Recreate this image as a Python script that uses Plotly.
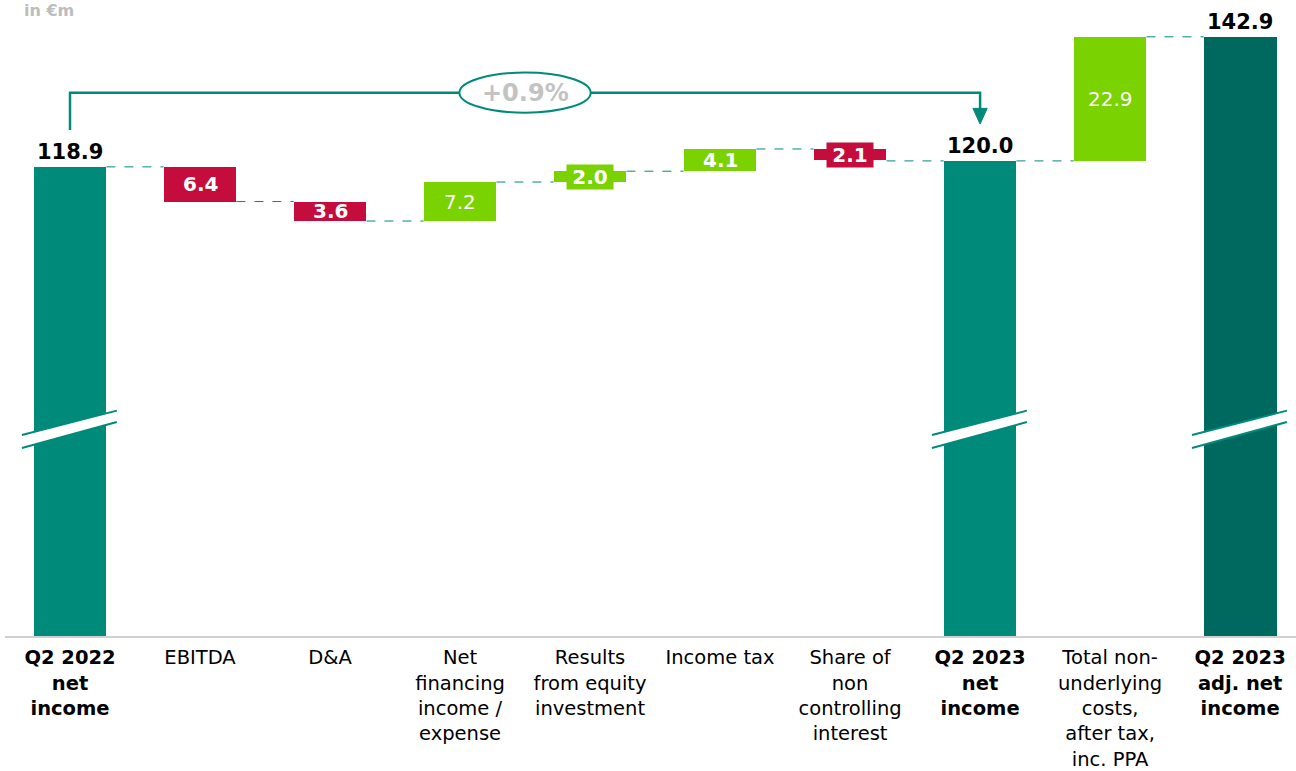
import plotly.graph_objects as go

# ---------------- data ----------------
categories = [
    "<b>Q2 2022<br>net<br>income</b>",
    "EBITDA",
    "D&A",
    "Net<br>financing<br>income /<br>expense",
    "Results<br>from equity<br>investment",
    "Income tax",
    "Share of<br>non<br>controlling<br>interest",
    "<b>Q2 2023<br>net<br>income</b>",
    "Total non-<br>underlying<br>costs,<br>after tax,<br>inc. PPA",
    "<b>Q2 2023<br>adj. net<br>income</b>",
]
values = [118.9, -6.4, -3.6, 7.2, 2.0, 4.1, -2.1, 120.0, 22.9, 142.9]
kinds = ["total", "delta", "delta", "delta", "delta", "delta", "delta", "total", "delta", "total"]
label_bold = [True, True, True, False, True, True, True, True, False, True]
change_text = "+0.9%"
unit_text = "in €m"

# ---------------- style ----------------
TEAL = "#008A7A"
DARK_TEAL = "#00695F"
RED = "#C40D3C"
GREEN = "#7AD300"
FONT = "DejaVu Sans"
total_colors = {0: TEAL, 7: TEAL, 9: DARK_TEAL}

bases, heights, colors, ends = [], [], [], []
level = 0.0
for i, (v, k) in enumerate(zip(values, kinds)):
    if k == "total":
        bases.append(0.0)
        heights.append(v)
        colors.append(total_colors[i])
        level = v
    else:
        bases.append(level)
        heights.append(v)
        colors.append(GREEN if v >= 0 else RED)
        level = level + v
    ends.append(level)

x = list(range(len(values)))
BAR_W = 0.56

fig = go.Figure()
fig.add_trace(go.Bar(
    x=x, y=heights, base=bases, width=BAR_W,
    marker=dict(color=colors, line=dict(width=0)),
    hoverinfo="skip", showlegend=False,
))

shapes = []
annotations = []

# connectors
for i in range(len(values) - 1):
    lvl = ends[i]
    if kinds[i + 1] == "total":
        lvl = values[i + 1]
    shapes.append(dict(
        type="line", xref="x", yref="y",
        x0=i + BAR_W / 2, x1=i + 1 - BAR_W / 2, y0=lvl, y1=lvl,
        line=dict(color=TEAL, width=1, dash="dash"), layer="below",
    ))

# value labels
for i, v in enumerate(values):
    if kinds[i] == "total":
        annotations.append(dict(
            x=i, y=v, xref="x", yref="y", text=f"<b>{v:.1f}</b>",
            showarrow=False, yanchor="bottom", yshift=1,
            font=dict(family=FONT, size=21, color="black"),
        ))
    else:
        mid = bases[i] + heights[i] / 2
        t = f"{abs(v):.1f}"
        if label_bold[i]:
            t = f"<b>{t}</b>"
        small = abs(v) < 3
        annotations.append(dict(
            x=i, y=mid, xref="x", yref="y", text=t, showarrow=False,
            bgcolor=colors[i] if small else "rgba(0,0,0,0)",
            borderpad=0, height=24 if small else None,
            width=46 if small else None,
            font=dict(family=FONT, size=20, color="white"),
        ))

# axis break marks
for i in [0, 7, 9]:
    xl, xr = i - 0.37, i + 0.36
    ul, ur, ll, lr = 69.4, 73.9, 67.0, 71.8
    shapes.append(dict(
        type="path", xref="x", yref="y",
        path=f"M {xl},{ul} L {xr},{ur} L {xr},{lr} L {xl},{ll} Z",
        fillcolor="white", line=dict(width=0),
    ))
    for (ya, yb) in [(ul, ur), (ll, lr)]:
        shapes.append(dict(
            type="line", xref="x", yref="y", x0=xl, x1=xr, y0=ya, y1=yb,
            line=dict(color=TEAL, width=2),
        ))

# bridge line with arrow
y_top = 132.6
shapes.append(dict(
    type="path", xref="x", yref="y",
    path=f"M 0,125.7 L 0,{y_top} L 7,{y_top} L 7,129.3",
    line=dict(color=TEAL, width=2.5),
))
shapes.append(dict(
    type="path", xref="x", yref="y",
    path="M 6.945,129.7 L 7.055,129.7 L 7,126.8 Z",
    fillcolor=TEAL, line=dict(color=TEAL, width=1),
))
# ellipse with change
shapes.append(dict(
    type="circle", xref="x", yref="y",
    x0=3.5 - 0.505, x1=3.5 + 0.505, y0=128.9, y1=136.3,
    fillcolor="white", line=dict(color=TEAL, width=2),
))
annotations.append(dict(
    x=3.5, y=y_top, xref="x", yref="y", text=f"<b>{change_text}</b>",
    showarrow=False, font=dict(family=FONT, size=24, color="#C3C3C3"),
))
annotations.append(dict(
    x=0.013, y=1, xref="paper", yref="paper", text=f"<b>{unit_text}</b>",
    showarrow=False, xanchor="left", yanchor="top", yshift=1,
    font=dict(family=FONT, size=16, color="#BDBDBD"),
))

fig.update_layout(
    width=1296, height=771,
    margin=dict(l=5, r=0, t=0, b=135, autoexpand=False),
    paper_bgcolor="white", plot_bgcolor="white",
    shapes=shapes, annotations=annotations,
    bargap=0,
    xaxis=dict(
        range=[-0.5, 9.43], tickmode="array", tickvals=x, ticktext=categories,
        showline=True, linecolor="#D0D0D0", linewidth=1.5,
        showgrid=False, zeroline=False,
        ticks="outside", ticklen=3, tickcolor="rgba(0,0,0,0)",
        automargin=False,
        tickfont=dict(family=FONT, size=19.5, color="black"),
        fixedrange=True,
    ),
    yaxis=dict(
        range=[32.3, 149.7], showticklabels=False, showgrid=False,
        zeroline=False, showline=False, fixedrange=True, automargin=False,
    ),
)

fig.write_html("out.html")
